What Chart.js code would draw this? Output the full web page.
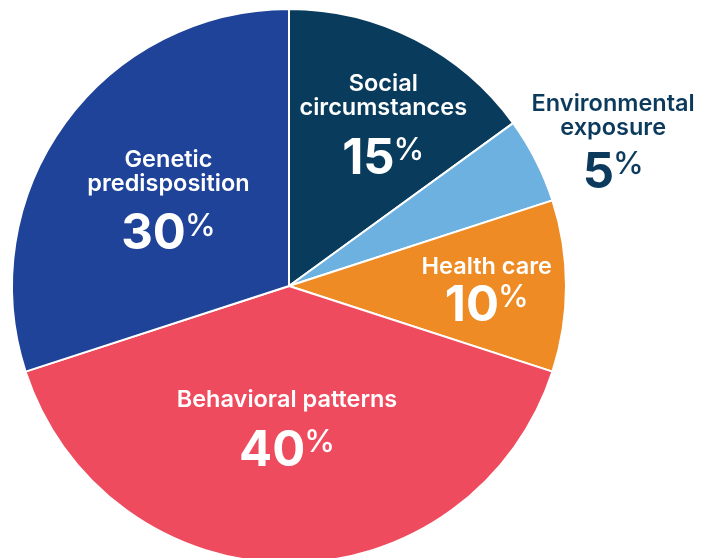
<!DOCTYPE html>
<html>
<head>
<meta charset="utf-8">
<script src="https://cdn.jsdelivr.net/npm/chart.js@4/dist/chart.umd.min.js"></script>
<style>
  html, body { margin: 0; padding: 0; background: #ffffff; overflow: hidden; }
  #wrap { width: 712px; height: 570px; }
</style>
</head>
<body>
<div id="wrap"><canvas id="c" width="712" height="570"></canvas></div>
<script>
// ---- data ----
const categories = ["Social circumstances", "Environmental exposure", "Health care", "Behavioral patterns", "Genetic predisposition"];
const labelLines = [["Social", "circumstances"], ["Environmental", "exposure"], ["Health care"], ["Behavioral patterns"], ["Genetic", "predisposition"]];
const shares = [15, 5, 10, 40, 30];

// ---- styles ----
const sliceColors = ["#093b5c", "#6db1e0", "#ee8b24", "#ee4b5f", "#1f4399"];
const textColors = ["#ffffff", "#0b3a5c", "#ffffff", "#ffffff", "#ffffff"];
// label placement relative to each slice: radial fraction of radius along mid-angle, pixel nudge, gap name->percent
const labelLayout = [
  { frac: 0.69,  dx: 7.5, dy: 3.8,  gap: 50 },
  { frac: 1.288, dx: 6.3, dy: 12.4, gap: 44 },
  { frac: 0.714, dx: 0,   dy: -2,   gap: 38 },
  { frac: 0.496, dx: -2,  dy: 0,    gap: 50 },
  { frac: 0.545, dx: 1.6, dy: -2.1, gap: 49 }
];
const FONT = "Inter, 'Open Sans', 'DejaVu Sans', sans-serif";
const nameSize = 23.5, lineStep = 24, digitSize = 49, pctSize = 31;

const labelPlugin = {
  id: 'sliceLabels',
  afterDatasetsDraw(chart) {
    const ctx = chart.ctx;
    const meta = chart.getDatasetMeta(0);
    meta.data.forEach((arc, i) => {
      const p = arc.getProps(['x', 'y', 'startAngle', 'endAngle', 'outerRadius'], true);
      const mid = (p.startAngle + p.endAngle) / 2;
      const L = labelLayout[i];
      const cx = p.x + L.frac * p.outerRadius * Math.cos(mid) + L.dx;
      const cy = p.y + L.frac * p.outerRadius * Math.sin(mid) + L.dy;
      const lines = labelLines[i];
      const span = (lines.length - 1) * lineStep + L.gap;
      const firstY = cy - span / 2;
      ctx.save();
      ctx.fillStyle = textColors[i];
      ctx.textBaseline = 'alphabetic';
      ctx.textAlign = 'center';
      ctx.font = `600 ${nameSize}px ${FONT}`;
      const capN = nameSize * 0.727;
      lines.forEach((t, k) => {
        ctx.fillText(t, cx, firstY + k * lineStep + capN / 2);
      });
      const pctCenter = firstY + (lines.length - 1) * lineStep + L.gap;
      const digits = String(shares[i]);
      ctx.textAlign = 'left';
      ctx.font = `700 ${digitSize}px ${FONT}`;
      const wD = ctx.measureText(digits).width;
      ctx.font = `500 ${pctSize}px ${FONT}`;
      const wP = ctx.measureText('%').width;
      const gapP = -1;
      const x0 = cx - (wD + gapP + wP) / 2;
      const capD = digitSize * 0.727;
      const top = pctCenter - capD / 2;
      ctx.font = `700 ${digitSize}px ${FONT}`;
      ctx.fillText(digits, x0, pctCenter + capD / 2);
      ctx.font = `500 ${pctSize}px ${FONT}`;
      ctx.fillText('%', x0 + wD + gapP, top + pctSize * 0.70);
      ctx.restore();
    });
  }
};

new Chart(document.getElementById('c'), {
  type: 'pie',
  data: {
    labels: categories,
    datasets: [{
      data: shares,
      backgroundColor: sliceColors,
      borderColor: '#ffffff',
      borderWidth: 2
    }]
  },
  options: {
    responsive: false,
    animation: false,
    layout: { padding: { left: 11, right: 145, top: 7, bottom: 5 } },
    plugins: { legend: { display: false }, tooltip: { enabled: false } }
  },
  plugins: [labelPlugin]
});
</script>
</body>
</html>
